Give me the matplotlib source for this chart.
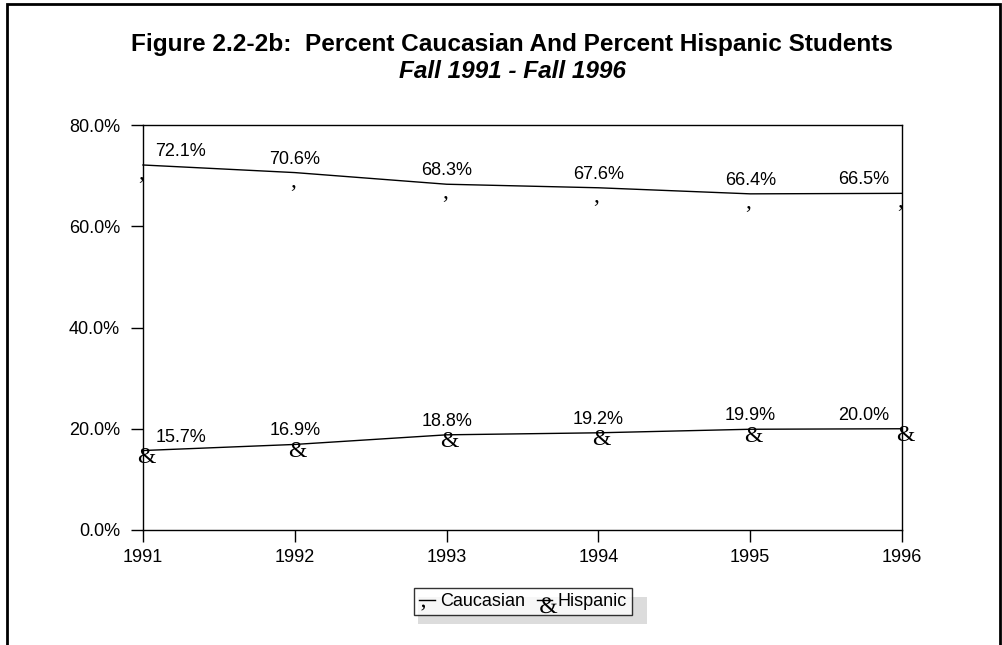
import matplotlib
matplotlib.use('Agg')
import numpy as np
import matplotlib.pyplot as plt
from matplotlib.patches import Rectangle
from matplotlib.lines import Line2D
from matplotlib.ticker import FuncFormatter
from matplotlib.textpath import TextPath
from matplotlib.font_manager import FontProperties

plt.rcParams['font.family'] = ['Liberation Sans', 'DejaVu Sans']

years = [1991, 1992, 1993, 1994, 1995, 1996]
caucasian = [72.1, 70.6, 68.3, 67.6, 66.4, 66.5]
hispanic = [15.7, 16.9, 18.8, 19.2, 19.9, 20.0]

W, H = 1003, 645
fig = plt.figure(figsize=(W / 100, H / 100), dpi=100)
ax = fig.add_axes([143 / W, 1 - 530 / H, (902 - 143) / W, (530 - 125) / H])

ax.plot(years, caucasian, color='black', lw=1.0, clip_on=False)
ax.plot(years, hispanic, color='black', lw=1.0, clip_on=False)

# the odd glyph markers from the original printout
for x, y in zip(years, caucasian):
    ax.annotate(',', (x, y), xytext=(-2, -14), textcoords='offset pixels',
                ha='center', va='baseline', fontsize=17, family='Liberation Serif',
                annotation_clip=False)
for x, y in zip(years, hispanic):
    ax.annotate('&', (x, y), xytext=(3, -7), textcoords='offset pixels',
                ha='center', va='center', fontsize=17, family='Liberation Serif',
                annotation_clip=False)

# value labels
n = len(years)
for series in (caucasian, hispanic):
    for i, (x, y) in enumerate(zip(years, series)):
        dx = 38 if i == 0 else (-38 if i == n - 1 else 0)
        ax.annotate(f'{y:.1f}%', (x, y), xytext=(dx, 5), textcoords='offset pixels',
                    ha='center', va='bottom', fontsize=13)

ax.set_xlim(1991, 1996)
ax.set_ylim(0, 80)
ax.set_xticks(years)
ax.set_yticks([0, 20, 40, 60, 80])
ax.yaxis.set_major_formatter(FuncFormatter(lambda v, p: f'{v:.1f}%'))
ax.tick_params(direction='out', length=8.5, width=1, labelsize=13)
ax.tick_params(axis='y', pad=8)
ax.tick_params(axis='x', pad=5)
for s in ax.spines.values():
    s.set_linewidth(1.0)

fig.text(512 / W, 1 - 44 / H, 'Figure 2.2-2b:  Percent Caucasian And Percent Hispanic Students',
         ha='center', va='center', fontsize=17.6, fontweight='bold')
fig.text(512 / W, 1 - 71 / H, 'Fall 1991 - Fall 1996',
         ha='center', va='center', fontsize=17.6, fontweight='bold', style='italic')


# glyph marker for the legend, shifted off the handle centre like in the original
def glyph_marker(ch, shift, em_pt=17):
    p = TextPath((0, 0), ch, size=1, prop=FontProperties(family='Liberation Serif'))
    v = p.vertices
    cx = (v[:, 0].min() + v[:, 0].max()) / 2
    cy = (v[:, 1].min() + v[:, 1].max()) / 2
    p = TextPath((shift[0] - cx, shift[1] - cy), ch, size=1,
                 prop=FontProperties(family='Liberation Serif'))
    rescale = np.max(np.abs(p.vertices))
    return p, em_pt * 2 * rescale


comma_path, comma_ms = glyph_marker(',', (-0.2, -0.3))
amp_path, amp_ms = glyph_marker('&', (0.16, -0.2))
handles = [Line2D([], [], color='black', lw=1, marker=comma_path, markersize=comma_ms, markeredgewidth=0),
           Line2D([], [], color='black', lw=1, marker=amp_path, markersize=amp_ms, markeredgewidth=0)]
leg = fig.legend(handles, ['Caucasian', 'Hispanic'], loc='center',
                 bbox_to_anchor=(523 / W, 1 - 601.5 / H), ncol=2,
                 frameon=True, fancybox=False, edgecolor='black', fontsize=13,
                 handlelength=0.85, handletextpad=0.3, columnspacing=0.65,
                 borderpad=0.3, borderaxespad=0)
leg.get_frame().set_linewidth(1)

# legend shadow
fig.patches.append(Rectangle((418 / W, 1 - 624 / H), (647 - 418) / W, (624 - 597) / H,
                             transform=fig.transFigure, facecolor='#dcdcdc', edgecolor='none', zorder=1))

# outer frame
fig.patches.append(Rectangle((7 / W, -0.1), (1000 - 7) / W, 1 - 4 / H + 0.1,
                             transform=fig.transFigure, fill=False, edgecolor='black', lw=2,
                             clip_on=False, zorder=2))

fig.savefig('out.png', dpi=100)
